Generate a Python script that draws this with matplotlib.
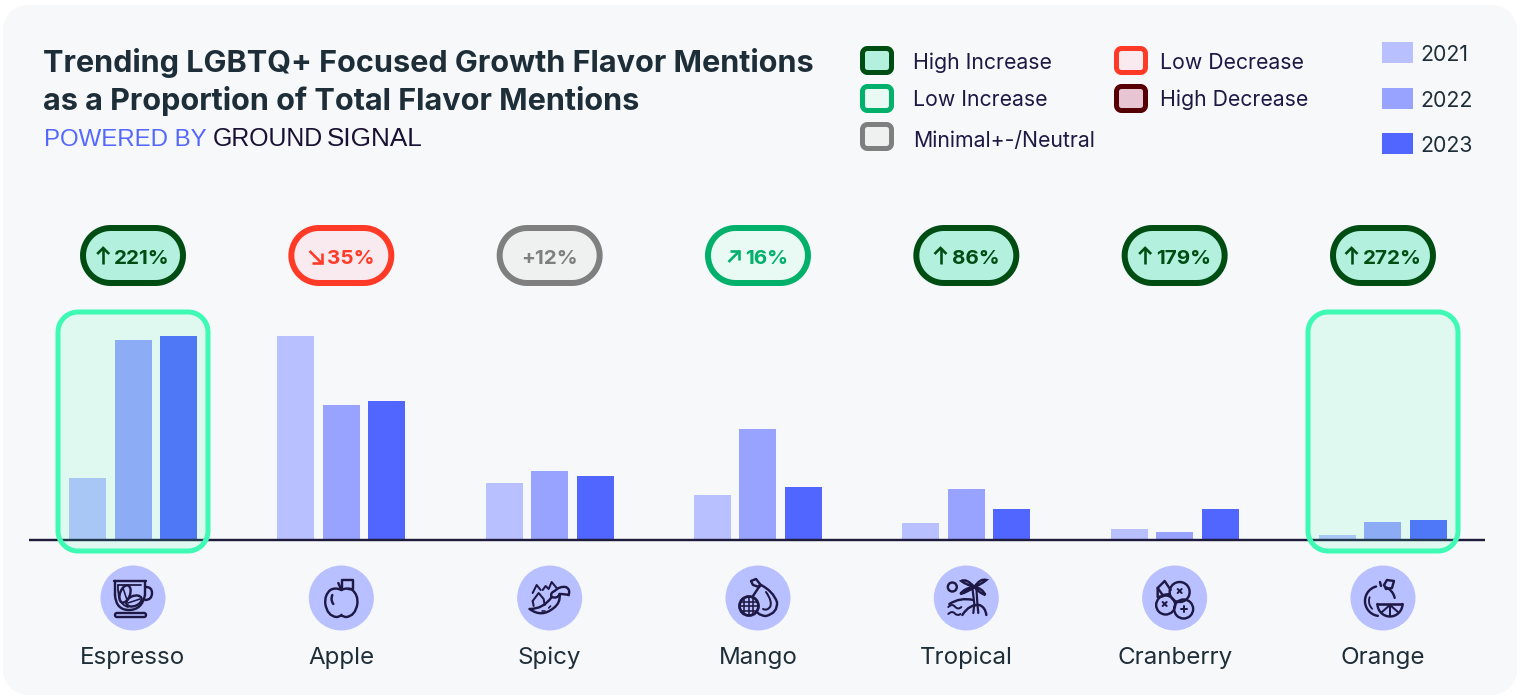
import numpy as np
from matplotlib import pyplot as plt
from matplotlib.patches import Circle, Ellipse, PathPatch, Rectangle
from matplotlib.path import Path

plt.rcParams["font.family"] = ["Inter", "DejaVu Sans"]

categories = ["Espresso", "Apple", "Spicy", "Mango", "Tropical", "Cranberry", "Orange"]
years = ["2021", "2022", "2023"]

# relative share, tallest bar = 100
values_2021 = [30.4, 100, 27.9, 22.1, 8.3, 5.4, 2.5]
values_2022 = [98, 66.2, 33.8, 54.4, 25, 3.9, 8.8]
values_2023 = [100, 68.1, 31.4, 26, 15.2, 15.2, 9.8]

change_labels = ["221%", "35%", "+12%", "16%", "86%", "179%", "272%"]
change_arrows = ["up", "down", "", "rise", "up", "up", "up"]
change_status = ["high_inc", "low_dec", "neutral", "low_inc", "high_inc", "high_inc", "high_inc"]
highlighted = ["Espresso", "Orange"]

legend_left = [("High Increase", "high_inc"), ("Low Increase", "low_inc"), ("Minimal+-/Neutral", "neutral")]
legend_right = [("Low Decrease", "low_dec"), ("High Decrease", "high_dec")]

# status: edge, fill
status_colors = {
    "high_inc": ("#004D14", "#B3F0DE"),
    "low_inc": ("#00B06B", "#E8FAF3"),
    "neutral": ("#7F7F7F", "#EFF1F1"),
    "low_dec": ("#FF3B28", "#F9EAF0"),
    "high_dec": ("#560006", "#E8C5D2"),
}
year_colors = ["#B8C0FF", "#98A2FF", "#5165FF"]
dark = "#1E2E38"
ink = "#1E1845"

W, H = 1522, 696
first_x, step = 133, 208.33
centers = [first_x + step * i for i in range(len(categories))]
px = 0.72  # px to pt at dpi 100


def round_box(x0, y0, x1, y1, r, **kwargs):
    # rounded rectangle with true circular corners
    pts = []
    for ccx, ccy, start in [(x1 - r, y0 + r, -90), (x1 - r, y1 - r, 0), (x0 + r, y1 - r, 90), (x0 + r, y0 + r, 180)]:
        t = np.radians(np.linspace(start, start + 90, 16))
        pts.append(np.column_stack([ccx + r * np.cos(t), ccy + r * np.sin(t)]))
    pts = np.vstack(pts)
    pts = np.vstack([pts, pts[0]])
    codes = [Path.MOVETO] + [Path.LINETO] * (len(pts) - 2) + [Path.CLOSEPOLY]
    return PathPatch(Path(pts, codes), **kwargs)


fig = plt.figure(figsize=(W / 100, H / 100), dpi=100, facecolor="white")

# pixel coordinate layer behind the bars
bg = fig.add_axes([0, 0, 1, 1], zorder=0)
bg.set_xlim(0, W)
bg.set_ylim(H, 0)
bg.axis("off")
bg.add_patch(round_box(3, 5, 1517, 695, 25, fc="#F7F8FA", ec="none"))

# bars, 1 unit = 2.04 px, baseline at y=540
base_y = 540
ax = fig.add_axes([29 / W, (H - base_y) / H, (1485 - 29) / W, 230 / H], zorder=1)
ax.set_xlim((29 - first_x) / step, (1485 - first_x) / step)
ax.set_ylim(0, 230 / 2.04)
ax.axis("off")
x = np.arange(len(categories))
for offset, vals, color in zip([-0.2184, 0, 0.2184], [values_2021, values_2022, values_2023], year_colors):
    ax.bar(x + offset, vals, width=37 / step, color=color, linewidth=0)

# pixel coordinate layer on top
fg = fig.add_axes([0, 0, 1, 1], zorder=2)
fg.set_xlim(0, W)
fg.set_ylim(H, 0)
fg.axis("off")
fg.patch.set_alpha(0)

fg.plot([29, 1485], [base_y, base_y], color="#1F1B3D", lw=2.4 * px, solid_capstyle="butt", zorder=3)

# highlight boxes
for name in highlighted:
    cx = centers[categories.index(name)]
    fg.add_patch(round_box(cx - 75, 312, cx + 75, 551, 20, fc=(0.247, 0.98, 0.706, 0.13),
                           ec="#3FFAB4", lw=5 * px, zorder=4))

# title block
fg.text(43, 72, "Trending LGBTQ+ Focused Growth Flavor Mentions", fontsize=22.05, fontweight="bold",
        color=dark, va="baseline")
fg.text(43, 110, "as a Proportion of Total Flavor Mentions", fontsize=22.05, fontweight="bold",
        color=dark, va="baseline")
fg.text(44, 146, "POWERED BY", fontsize=17.3, color="#5468FF", va="baseline", family=["Liberation Sans"])
fg.text(213, 146, "GROUND", fontsize=17.9, color="#1A1033", va="baseline", family=["Liberation Sans"])
fg.text(327, 146, "SIGNAL", fontsize=18.8, color="#1A1033", va="baseline", family=["Liberation Sans"])


def swatch(x0, y0, status):
    edge, fill = status_colors[status]
    fg.add_patch(round_box(x0 + 2.5, y0 + 2.5, x0 + 31.5, y0 + 26.5, 5, fc=fill, ec=edge, lw=5 * px))


for (label, status), y0, base in zip(legend_left, [46, 84, 122], [69, 106, 147]):
    swatch(860, y0, status)
    fg.text(913, base, label, fontsize=15.3, color=ink, va="baseline")
for (label, status), y0, base in zip(legend_right, [46, 84], [69, 106]):
    swatch(1114, y0, status)
    fg.text(1160, base, label, fontsize=15.3, color=ink, va="baseline")
for year, color, y0, base in zip(years, year_colors, [42, 88, 133], [61, 107, 152]):
    fg.add_patch(Rectangle((1382, y0), 31, 21, fc=color, ec="none"))
    fg.text(1420, base, year, fontsize=15.3, color=dark, va="baseline")


def draw_arrow(kind, x0, color):
    # small trend arrows inside the pills, x0 is the left edge
    style = dict(color=color, lw=2.6 * px, solid_capstyle="butt", solid_joinstyle="miter")
    if kind == "up":
        fg.plot([x0 + 7, x0 + 7], [248, 264], **style)
        fg.plot([x0 + 1, x0 + 7, x0 + 13], [254, 248, 254], **style)
    elif kind == "down":
        fg.plot([x0 + 1, x0 + 13], [251, 263], **style)
        fg.plot([x0 + 3, x0 + 13, x0 + 13], [263, 263, 253], **style)
    else:
        fg.plot([x0 + 1, x0 + 12], [262, 251], **style)
        fg.plot([x0 + 3, x0 + 12, x0 + 12], [251, 251, 260], **style)


# change pills
renderer = fig.canvas.get_renderer()
for cx, label, arrow, status in zip(centers, change_labels, change_arrows, change_status):
    edge, fill = status_colors[status]
    fg.add_patch(round_box(cx - 50, 228, cx + 50, 283, 27.5, fc=fill, ec=edge, lw=6 * px))
    txt = fg.text(cx, 264, label, fontsize=14.8, fontweight="bold", color=edge, ha="left", va="baseline")
    tw = txt.get_window_extent(renderer).width
    if arrow:
        left = cx - (tw + 18) / 2
        draw_arrow(arrow, left, edge)
        txt.set_x(left + 18)
    else:
        txt.set_x(cx - tw / 2)


# icon helpers, local pixel offsets from the circle centre
LW = 2.4


def stroke(cx, cy, pts, lw=LW):
    pts = np.array(pts, dtype=float)
    fg.plot(cx + pts[:, 0], cy + pts[:, 1], color=ink, lw=lw * px, solid_capstyle="round",
            solid_joinstyle="round", zorder=6)


def curve(cx, cy, pts, lw=LW):
    # quadratic path through control points
    pts = np.array(pts, dtype=float) + [cx, cy]
    codes = [Path.MOVETO] + [Path.CURVE3] * (len(pts) - 1)
    fg.add_patch(PathPatch(Path(pts, codes), fc="none", ec=ink, lw=lw * px, zorder=6, capstyle="round"))


def ring(cx, cy, dx, dy, r, lw=LW):
    fg.add_patch(Circle((cx + dx, cy + dy), r, fc="none", ec=ink, lw=lw * px, zorder=6))


def bean(cx, cy, dx, dy, w, h, angle):
    fg.add_patch(Ellipse((cx + dx, cy + dy), w, h, angle=angle, fc="none", ec=ink, lw=LW * px, zorder=6))


def arc(cx, cy, dx, dy, r, a0, a1, lw=LW):
    # angles as seen on screen, counter clockwise from the right
    t = np.radians(np.linspace(a0, a1, 30))
    stroke(cx, cy, np.column_stack([dx + r * np.cos(t), dy - r * np.sin(t)]), lw=lw)


def icon_espresso(cx, cy):
    stroke(cx, cy, [(-19, -17), (13, -17)])
    stroke(cx, cy, [(-18, -17), (-18, -3)])
    stroke(cx, cy, [(12, -17), (12, -3)])
    curve(cx, cy, [(-18, -3), (-17, 12), (-4, 12), (9, 12), (12, -3)])
    curve(cx, cy, [(13, -11), (19, -11), (19, -5), (19, 2), (12, 2)])
    curve(cx, cy, [(-15, -13), (-16, 6), (-5, 9)], lw=1.8)
    stroke(cx, cy, [(-15, -13), (8, -13)], lw=1.8)
    bean(cx, cy, -8, -4, 10, 18, 20)
    bean(cx, cy, 1, 3, 16, 10, -22)
    stroke(cx, cy, [(-10, -10), (-6, 2)], lw=1.6)
    stroke(cx, cy, [(-5, 5), (7, 1)], lw=1.6)
    fg.add_patch(round_box(cx - 18, cy + 15, cx + 13, cy + 19, 2, fc="none", ec=ink, lw=LW * px, zorder=6))


def icon_apple(cx, cy):
    curve(cx, cy, [(0, -8), (-6, -11), (-11, -8), (-17, -3), (-16, 6), (-14, 18), (-5, 19), (-2, 19), (0, 17),
                   (2, 19), (5, 19), (14, 18), (16, 6), (17, -3), (11, -8), (6, -11), (0, -8)])
    curve(cx, cy, [(-8, 6), (-11, 2), (-9, -3)])
    stroke(cx, cy, [(0, -8), (-3, -15)])
    stroke(cx, cy, [(1, -10), (1, -18), (12, -18), (12, -9), (7, -9)])


def icon_spicy(cx, cy):
    curve(cx, cy, [(-20, 11), (-8, 20), (4, 10), (11, 5), (10, -4)])
    curve(cx, cy, [(-20, 11), (-6, 11), (2, -1)])
    curve(cx, cy, [(2, -1), (0, -5), (5, -7), (10, -12), (16, -11), (21, -9), (19, -3), (15, -4), (10, -4)])
    curve(cx, cy, [(2, -1), (8, 1), (10, -4)])
    stroke(cx, cy, [(-17, 3), (-11, -5), (-6, 1), (-5, 7)], lw=2)
    stroke(cx, cy, [(-17, 3), (-16, 8)], lw=2)
    stroke(cx, cy, [(-17, -5), (-13, -13), (-9, -8)], lw=2)
    stroke(cx, cy, [(-7, -8), (-4, -12), (-1, -9), (2, -16), (7, -10)], lw=2)
    stroke(cx, cy, [(-8, 13), (-5, 13)], lw=1.6)
    stroke(cx, cy, [(-1, 10), (1, 8)], lw=1.6)


def icon_mango(cx, cy):
    curve(cx, cy, [(3, -13), (15, -7), (19, 4), (20, 15), (8, 18), (3, 18), (0, 15)])
    curve(cx, cy, [(8, -6), (15, 4), (12, 9), (9, 13), (5, 11)], lw=2)
    stroke(cx, cy, [(-5, -2), (1, -11), (-5, -13), (-7, -17), (-2, -19), (2, -14), (1, -11), (3, -13)])
    ring(cx, cy, -9, 8, 9.5, lw=2.8)
    for d in [-4.5, 0, 4.5]:
        chord = np.sqrt(90 - d * d)
        stroke(cx, cy, [(-9 + d, 8 - chord), (-9 + d, 8 + chord)], lw=1.6)
        stroke(cx, cy, [(-9 - chord, 8 + d), (-9 + chord, 8 + d)], lw=1.6)


def icon_tropical(cx, cy):
    ring(cx, cy, -14, -11, 4.5)
    stroke(cx, cy, [(6, -11), (8, 6), (7, 15)], lw=2.2)
    stroke(cx, cy, [(10, -11), (11, 5), (12, 15)], lw=2.2)
    curve(cx, cy, [(8, -11), (0, -20), (-5, -17), (0, -13), (8, -11)])
    curve(cx, cy, [(8, -11), (14, -20), (20, -18), (14, -13), (8, -11)])
    curve(cx, cy, [(8, -11), (-2, -10), (-6, -4), (2, -6), (8, -11)])
    curve(cx, cy, [(8, -11), (16, -10), (19, -3), (13, -5), (8, -11)])
    curve(cx, cy, [(-17, 6), (-6, -1), (7, 2)])
    curve(cx, cy, [(-4, 17), (3, 6), (13, 7), (19, 9), (20, 17)])
    curve(cx, cy, [(-18, 9), (-14, 5), (-11, 9), (-8, 12), (-5, 9)], lw=2)
    curve(cx, cy, [(-18, 16), (-14, 12), (-11, 16), (-8, 18), (-6, 16)], lw=2)


def icon_cranberry(cx, cy):
    ring(cx, cy, 5, -6, 10)
    ring(cx, cy, -9, 7, 9.5)
    ring(cx, cy, 9, 11, 9.5)
    stroke(cx, cy, [(-4, -8), (-10, -17), (-17, -10), (-12, -3), (-5, -4)])
    stroke(cx, cy, [(-17, -10), (-17, -1), (-11, -2)])
    for dx, dy in [(5, -7), (-10, 6)]:
        stroke(cx, cy, [(dx - 2, dy - 2), (dx + 2, dy + 2)], lw=2)
        stroke(cx, cy, [(dx - 2, dy + 2), (dx + 2, dy - 2)], lw=2)
    stroke(cx, cy, [(6, 11), (12, 11)], lw=2)
    stroke(cx, cy, [(9, 8), (9, 14)], lw=2)


def icon_orange(cx, cy):
    arc(cx, cy, -3, 3, 15, 105, 262)
    arc(cx, cy, -3, 3, 15, 65, 12)
    arc(cx, cy, -3, 3, 11, 160, 225, lw=1.8)
    stroke(cx, cy, [(-2, -12), (-3, -16)])
    stroke(cx, cy, [(1, -13), (4, -18), (11, -17), (9, -10), (3, -9), (1, -13)])
    stroke(cx, cy, [(-6, 6), (19, 6)], lw=2.6)
    arc(cx, cy, 7, 6, 12.5, 180, 360)
    stroke(cx, cy, [(7, 7), (7, 18)], lw=2)
    stroke(cx, cy, [(7, 7), (-1, 14)], lw=2)
    stroke(cx, cy, [(7, 7), (15, 14)], lw=2)


icons = [icon_espresso, icon_apple, icon_spicy, icon_mango, icon_tropical, icon_cranberry, icon_orange]

for cx, name, icon in zip(centers, categories, icons):
    fg.add_patch(Circle((cx, 598), 32.5, fc="#B8C0FF", ec="none", zorder=5))
    icon(cx, 598)
    fg.text(cx, 664, name, fontsize=17.4, color=dark, ha="center", va="baseline")

fig.savefig("out.png", dpi=100)
